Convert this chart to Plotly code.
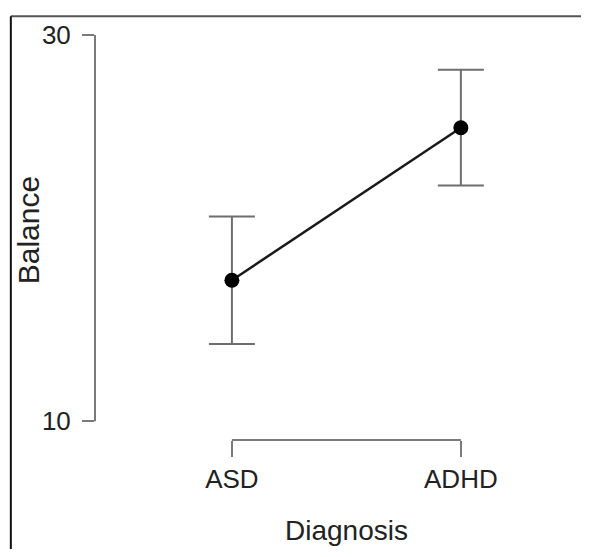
import plotly.graph_objects as go

categories = ["ASD", "ADHD"]
balance_mean = [17.3, 25.2]
balance_err = [3.3, 3.0]
y_ticks = [10, 30]

FONT = "Liberation Sans, Arial, Helvetica, sans-serif"
xpos = list(range(len(categories)))

fig = go.Figure()
fig.add_trace(go.Scatter(
    x=xpos, y=balance_mean,
    mode="lines+markers",
    line=dict(color="#1a1a1a", width=2.5),
    marker=dict(color="black", size=15),
    error_y=dict(type="data", array=balance_err, visible=True,
                 color="#6e6e6e", thickness=2, width=23),
    showlegend=False,
))

# R-style range-frame axis lines
fig.add_shape(type="line", xref="paper", yref="y", x0=0, x1=0,
              y0=min(y_ticks), y1=max(y_ticks), line=dict(color="#7a7a7a", width=2))
fig.add_shape(type="line", xref="x", yref="paper", x0=xpos[0], x1=xpos[-1],
              y0=0, y1=0, line=dict(color="#7a7a7a", width=2))

# image frame (top and left edges)
fig.add_shape(type="line", xref="paper", yref="paper", x0=-0.181, x1=1.1,
              y0=1.0465, y1=1.0465, line=dict(color="#555555", width=2))
fig.add_shape(type="line", xref="paper", yref="paper", x0=-0.181, x1=-0.181,
              y0=1.0465, y1=-0.3, line=dict(color="#111111", width=2))

fig.add_annotation(text="Balance", xref="paper", yref="paper", x=-0.144, y=0.518,
                   xanchor="center", yanchor="middle",
                   textangle=-90, showarrow=False,
                   font=dict(family=FONT, size=30, color="#222222"))
fig.add_annotation(text="Diagnosis", xref="x", yref="paper", x=0.5, y=-0.2225,
                   xanchor="center", yanchor="middle",
                   showarrow=False,
                   font=dict(family=FONT, size=28, color="#222222"))

fig.update_layout(
    width=573, height=541,
    margin=dict(l=87, r=21, t=23, b=109),
    paper_bgcolor="white", plot_bgcolor="white",
    font=dict(family=FONT, size=26, color="#222222"),
    xaxis=dict(range=[-0.598, 1.433], tickvals=xpos, ticktext=categories,
               showgrid=False, zeroline=False, showline=False,
               ticks="outside", ticklen=16, tickwidth=2, tickcolor="#7a7a7a",
               ticklabelstandoff=0, fixedrange=True),
    yaxis=dict(range=[9.026, 30], tickvals=y_ticks, ticktext=[str(v) for v in y_ticks],
               showgrid=False, zeroline=False, showline=False,
               ticks="outside", ticklen=12, tickwidth=2, tickcolor="#7a7a7a",
               ticklabelstandoff=6, fixedrange=True),
)

fig.write_html("out.html")
